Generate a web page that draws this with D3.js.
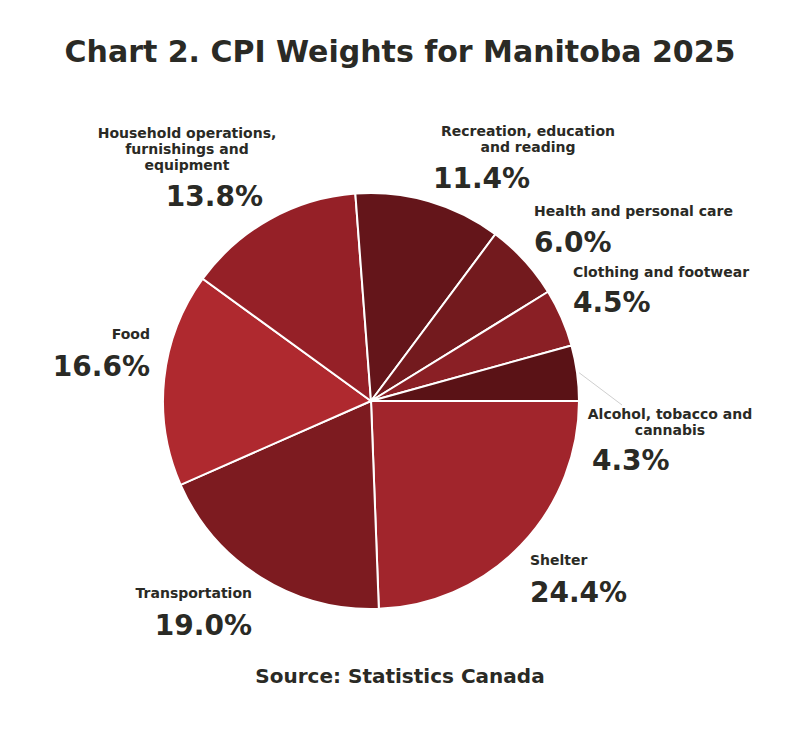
<!DOCTYPE html>
<html>
<head>
<meta charset="utf-8">
<script src="https://cdn.jsdelivr.net/npm/d3@7"></script>
<style>
  body { margin: 0; background: #fff; }
  text { font-family: "DejaVu Sans", "Noto Sans", sans-serif; fill: #2a2a25; }
</style>
</head>
<body>
<div id="chart"></div>
<script>
// data
const categories = ["Shelter", "Transportation", "Food", "Household operations, furnishings and equipment",
  "Recreation, education and reading", "Health and personal care", "Clothing and footwear", "Alcohol, tobacco and cannabis"];
const weights = [24.4, 19.0, 16.6, 13.8, 11.4, 6.0, 4.5, 4.3];
const sliceColors = ["#a1252c", "#7d1b20", "#af292f", "#952027", "#64151a", "#731a1e", "#8a1f25", "#5a1216"];

// label layout (lines, anchor, x, label baseline, percent x, percent baseline)
const labelLayout = [
  { lines: ["Shelter"], anchor: "start", x: 530, y: 565, px: 530, py: 602, pa: "start" },
  { lines: ["Transportation"], anchor: "end", x: 252, y: 598, px: 252, py: 635, pa: "end" },
  { lines: ["Food"], anchor: "end", x: 150, y: 339, px: 150, py: 376, pa: "end" },
  { lines: ["Household operations,", "furnishings and", "equipment"], anchor: "middle", x: 187, y: 138, px: 263, py: 206, pa: "end" },
  { lines: ["Recreation, education", "and reading"], anchor: "middle", x: 528, y: 136, px: 433, py: 188, pa: "start" },
  { lines: ["Health and personal care"], anchor: "start", x: 534, y: 216, px: 534, py: 252, pa: "start" },
  { lines: ["Clothing and footwear"], anchor: "start", x: 573, y: 277, px: 573, py: 312, pa: "start" },
  { lines: ["Alcohol, tobacco and", "cannabis"], anchor: "middle", x: 670, y: 419, px: 592, py: 470, pa: "start" }
];

const dimensions = { width: 800, height: 739, cx: 371, cy: 401, radius: 208 };

const svg = d3.select("#chart").append("svg")
  .attr("width", dimensions.width)
  .attr("height", dimensions.height);

// title
svg.append("text")
  .attr("x", 400).attr("y", 62)
  .attr("text-anchor", "middle")
  .style("font-size", "30px").style("font-weight", 700)
  .text("Chart 2. CPI Weights for Manitoba 2025");

// pie, starting at 3 o'clock and going clockwise
const pie = d3.pie()
  .sort(null)
  .startAngle(Math.PI / 2)
  .endAngle(Math.PI / 2 + 2 * Math.PI)
  .value(d => d);

const arc = d3.arc().innerRadius(0).outerRadius(dimensions.radius);

const bounds = svg.append("g")
  .attr("transform", `translate(${dimensions.cx},${dimensions.cy})`);

const arcs = pie(weights);

bounds.selectAll("path")
  .data(arcs)
  .join("path")
  .attr("d", arc)
  .attr("fill", (d, i) => sliceColors[i])
  .attr("stroke", "#fff")
  .attr("stroke-width", 2);

// leader line for the small alcohol slice
const alc = arcs[7];
const mid = (alc.startAngle + alc.endAngle) / 2;
const r0 = dimensions.radius + 2;
svg.append("line")
  .attr("x1", dimensions.cx + r0 * Math.sin(mid))
  .attr("y1", dimensions.cy - r0 * Math.cos(mid))
  .attr("x2", 622).attr("y2", 405)
  .attr("stroke", "#cfcfcf").attr("stroke-width", 1);

// labels
labelLayout.forEach((l, i) => {
  const t = svg.append("text")
    .attr("text-anchor", l.anchor)
    .style("font-size", "14px").style("font-weight", 700);
  l.lines.forEach((line, j) => {
    t.append("tspan").attr("x", l.x).attr("y", l.y + j * 16).text(line);
  });
  svg.append("text")
    .attr("x", l.px).attr("y", l.py)
    .attr("text-anchor", l.pa)
    .style("font-size", "28px").style("font-weight", 700)
    .text(d3.format(".1f")(weights[i]) + "%");
});

// source
svg.append("text")
  .attr("x", 400).attr("y", 683)
  .attr("text-anchor", "middle")
  .style("font-size", "20px").style("font-weight", 700)
  .text("Source: Statistics Canada");
</script>
</body>
</html>
